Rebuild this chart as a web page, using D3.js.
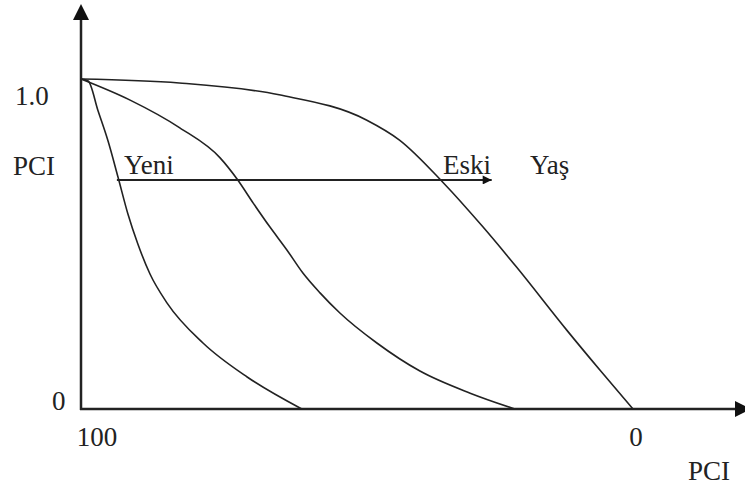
<!DOCTYPE html>
<html>
<head>
<meta charset="utf-8">
<script src="https://cdn.jsdelivr.net/npm/d3@7"></script>
<style>
  body { margin: 0; background: #fff; }
  svg text { font-family: "Liberation Serif", "Times New Roman", serif; fill: #222; }
</style>
</head>
<body>
<svg id="chart"></svg>
<script>
// PCI deterioration curves (x = PCI, 100 -> 0; y = relative PCI, 0 -> 1)
const curveNew = [
  [100, 1.0], [98.7, 0.994], [96.9, 0.903], [95.1, 0.812], [93.3, 0.703],
  [91.5, 0.591], [89.7, 0.500], [87.5, 0.409], [84.4, 0.321], [77.9, 0.200],
  [69.9, 0.097], [60.0, 0]
];
const curveMid = [
  [100, 1.0], [91.1, 0.936], [82.1, 0.852], [74.8, 0.761], [71.6, 0.694],
  [68.8, 0.624], [65.8, 0.552], [62.7, 0.482], [59.8, 0.412], [56.7, 0.352],
  [53.1, 0.291], [46.4, 0.200], [38.6, 0.115], [29.5, 0.048], [21.4, 0]
];
const curveOld = [
  [100, 1.0], [82.2, 0.988], [64.1, 0.952], [48.3, 0.876], [42.3, 0.815],
  [34.5, 0.688], [27.2, 0.552], [21.1, 0.430], [12.0, 0.239], [6.0, 0.118], [0, 0]
];
const curves = [curveNew, curveMid, curveOld];

// age arrow from "Yeni" to "Eski"
const ageArrow = { from: 93.5, to: 25.6, level: 0.694 };

const yTicks = [{ v: 1.0, label: "1.0" }, { v: 0, label: "0" }];
const xTicks = [{ v: 100, label: "100" }, { v: 0, label: "0" }];

const width = 745, height = 491;
const svg = d3.select("#chart").attr("width", width).attr("height", height);

const x = d3.scaleLinear().domain([100, 0]).range([81, 633]);
const y = d3.scaleLinear().domain([0, 1]).range([409, 79]);

const defs = svg.append("defs");
defs.append("marker")
  .attr("id", "arrow-small")
  .attr("viewBox", "0 -5 10 10")
  .attr("refX", 10).attr("refY", 0)
  .attr("markerUnits", "userSpaceOnUse")
  .attr("markerWidth", 12).attr("markerHeight", 9)
  .attr("orient", "auto")
  .append("path").attr("d", "M0,-5L10,0L0,5Z").attr("fill", "#111");

// axes
svg.append("line")
  .attr("x1", x(100)).attr("y1", y(0) + 1)
  .attr("x2", x(100)).attr("y2", 18)
  .attr("stroke", "#222").attr("stroke-width", 2.5);
svg.append("path")
  .attr("d", `M${x(100)},4L${x(100) - 8},20L${x(100) + 8},20Z`)
  .attr("fill", "#111");

svg.append("line")
  .attr("x1", x(100) - 1).attr("y1", y(0))
  .attr("x2", 738).attr("y2", y(0))
  .attr("stroke", "#222").attr("stroke-width", 2.5);
svg.append("path")
  .attr("d", `M751,${y(0)}L735,${y(0) - 8}L735,${y(0) + 8}Z`)
  .attr("fill", "#111");

// curves (pixel x grows left to right, so monotoneX keeps them smooth)
const line = d3.line()
  .x(d => x(d[0]))
  .y(d => y(d[1]))
  .curve(d3.curveMonotoneX);

svg.append("g")
  .selectAll("path")
  .data(curves)
  .join("path")
  .attr("d", line)
  .attr("fill", "none")
  .attr("stroke", "#222")
  .attr("stroke-width", 1.6);

// age arrow
svg.append("line")
  .attr("x1", x(ageArrow.from)).attr("y1", y(ageArrow.level))
  .attr("x2", x(ageArrow.to)).attr("y2", y(ageArrow.level))
  .attr("stroke", "#222").attr("stroke-width", 1.8)
  .attr("marker-end", "url(#arrow-small)");

// labels
const fs = 27;
svg.selectAll(".ytick")
  .data(yTicks)
  .join("text")
  .attr("class", "ytick")
  .attr("x", d => d.v === 0 ? 52 : 15)
  .attr("y", d => y(d.v) + (d.v === 0 ? 1 : 26))
  .attr("font-size", fs)
  .text(d => d.label);

svg.selectAll(".xtick")
  .data(xTicks)
  .join("text")
  .attr("class", "xtick")
  .attr("x", d => x(d.v) + (d.v === 0 ? 3 : 16))
  .attr("y", y(0) + 37)
  .attr("text-anchor", "middle")
  .attr("font-size", fs)
  .text(d => d.label);

svg.append("text").attr("x", 13).attr("y", 175).attr("font-size", fs).text("PCI");
svg.append("text").attr("x", 688).attr("y", 480).attr("font-size", fs).text("PCI");

const lblY = y(ageArrow.level) - 6;
svg.append("text").attr("x", x(ageArrow.from) + 7).attr("y", lblY).attr("font-size", fs).text("Yeni");
svg.append("text").attr("x", 443).attr("y", lblY).attr("font-size", fs).text("Eski");
svg.append("text").attr("x", 530).attr("y", lblY).attr("font-size", fs).text("Yaş");
</script>
</body>
</html>
